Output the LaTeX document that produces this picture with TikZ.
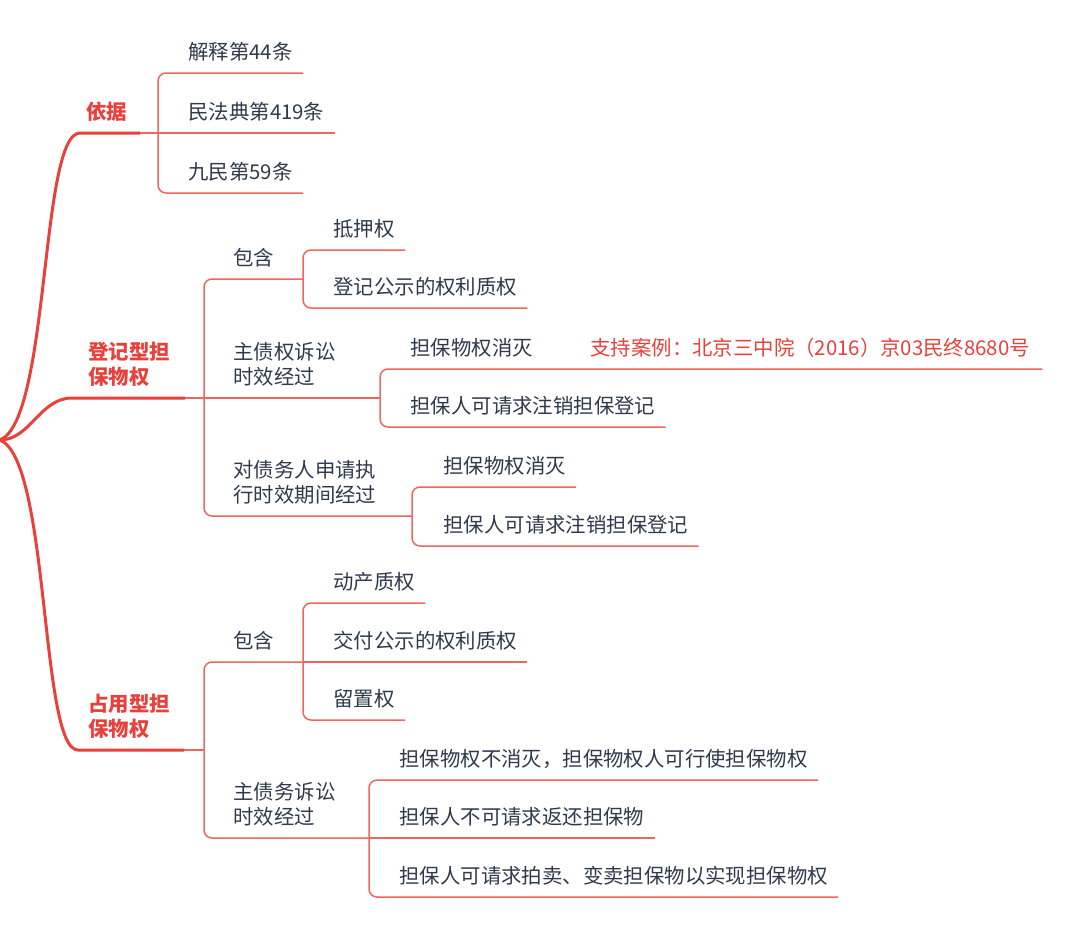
\documentclass[tikz,border=0pt]{standalone}
\usepackage{fontspec}
\setmainfont{Noto Sans CJK SC}
\usepackage{xcolor}
\usepackage{tikz}
\usetikzlibrary{calc}
\definecolor{ink}{HTML}{2E3A4B}
\definecolor{accent}{HTML}{E8413B}
\definecolor{branch}{HTML}{F0665F}
\tikzset{
  trunk/.style={draw=accent, line width=1.5pt},
  twig/.style={draw=branch, line width=0.75pt, rounded corners=4pt},
  head/.style={text=accent, font=\fontsize{10.2pt}{12.5pt}\selectfont\bfseries, anchor=base west, inner sep=0pt, align=left},
  leaf/.style={text=ink, font=\fontsize{10.2pt}{12.5pt}\selectfont, anchor=base west, inner sep=0pt},
  leaftwo/.style={leaf, align=left},
  note/.style={text=accent, font=\fontsize{10.2pt}{12.5pt}\selectfont, anchor=base west, inner sep=0pt}
}

\begin{document}
\begin{tikzpicture}[x=0.5pt,y=-0.5pt]
  \useasboundingbox (0,0) rectangle (1080,937);
  \coordinate (root) at (0,440);

  \node[head] (yiju) at (86,119) {依据};
  \coordinate (yiju-s) at (80,133);
  \coordinate (yiju-e) at (140,133);
  \coordinate (yiju-j) at (158,133);
  \draw[trunk] (root) .. controls (50,420) and (40,133) .. (yiju-s) -- (yiju-e);
  \draw[twig] (yiju-e) -- (yiju-j);

  \node[leaf] (jieshi) at (188,59) {解释第44条};
  \node[leaf] (minfa) at (188,119) {民法典第419条};
  \node[leaf] (jiumin) at (188,179) {九民第59条};
  \draw[twig] (yiju-j) |- ([xshift=5pt,yshift=-7pt]jieshi.base east);
  \draw[twig] (yiju-j) -- ([xshift=5pt,yshift=-7pt]minfa.base east);
  \draw[twig] (yiju-j) |- ([xshift=5pt,yshift=-7pt]jiumin.base east);

  \node[head] (dengji) at (88,384) {登记型担\\保物权};
  \coordinate (dengji-s) at (72,398);
  \coordinate (dengji-e) at (185,398);
  \coordinate (dengji-j) at (204,398);
  \draw[trunk] (root) .. controls (30,440) and (40,398) .. (dengji-s) -- (dengji-e);
  \draw[twig] (dengji-e) -- (dengji-j);

  \node[leaf] (baohan1) at (233,265) {包含};
  \coordinate (baohan1-j) at (303,279);
  \draw[twig] (dengji-j) |- (baohan1-j);
  \node[leaf] (diya) at (333,236) {抵押权};
  \node[leaf] (dengjiq) at (333,294) {登记公示的权利质权};
  \draw[twig] (baohan1-j) |- ([xshift=5pt,yshift=-7pt]diya.base east);
  \draw[twig] (baohan1-j) |- ([xshift=5pt,yshift=-7pt]dengjiq.base east);

  \node[leaftwo] (zhuzhai) at (233,384) {主债权诉讼\\时效经过};
  \coordinate (zhuzhai-j) at (380,398);
  \draw[twig] (dengji-j) -- (zhuzhai-j);
  \node[leaf] (xiaomie1) at (410,355) {担保物权消灭};
  \node[note] (anli) at (590,355) {支持案例：北京三中院（2016）京03民终8680号};
  \node[leaf] (zhuxiao1) at (410,413) {担保人可请求注销担保登记};
  \draw[twig] (zhuzhai-j) |- ([xshift=5pt,yshift=-7pt]xiaomie1.base east) -- ([xshift=6pt,yshift=-7pt]anli.base east);
  \draw[twig] (zhuzhai-j) |- ([xshift=5pt,yshift=-7pt]zhuxiao1.base east);

  \node[leaftwo] (duizhai) at (233,502) {对债务人申请执\\行时效期间经过};
  \coordinate (duizhai-j) at (412,516);
  \draw[twig] (dengji-j) |- (duizhai-j);
  \node[leaf] (xiaomie2) at (443,473) {担保物权消灭};
  \node[leaf] (zhuxiao2) at (443,532) {担保人可请求注销担保登记};
  \draw[twig] (duizhai-j) |- ([xshift=5pt,yshift=-7pt]xiaomie2.base east);
  \draw[twig] (duizhai-j) |- ([xshift=5pt,yshift=-7pt]zhuxiao2.base east);

  \node[head] (zhanyong) at (88,736) {占用型担\\保物权};
  \coordinate (zhanyong-s) at (78,750);
  \coordinate (zhanyong-e) at (184,750);
  \coordinate (zhanyong-j) at (204,750);
  \draw[trunk] (root) .. controls (50,460) and (40,750) .. (zhanyong-s) -- (zhanyong-e);
  \draw[twig] (zhanyong-e) -- (zhanyong-j);

  \node[leaf] (baohan2) at (233,648) {包含};
  \coordinate (baohan2-j) at (303,662);
  \draw[twig] (zhanyong-j) |- (baohan2-j);
  \node[leaf] (dongchan) at (333,589) {动产质权};
  \node[leaf] (jiaofu) at (333,648) {交付公示的权利质权};
  \node[leaf] (liuzhi) at (333,706) {留置权};
  \draw[twig] (baohan2-j) |- ([xshift=5pt,yshift=-7pt]dongchan.base east);
  \draw[twig] (baohan2-j) -- ([xshift=5pt,yshift=-7pt]jiaofu.base east);
  \draw[twig] (baohan2-j) |- ([xshift=5pt,yshift=-7pt]liuzhi.base east);

  \node[leaftwo] (zhuzhai2) at (233,824) {主债务诉讼\\时效经过};
  \coordinate (zhuzhai2-j) at (369,838);
  \draw[twig] (zhanyong-j) |- (zhuzhai2-j);
  \node[leaf] (buxiaomie) at (399,766) {担保物权不消灭，担保物权人可行使担保物权};
  \node[leaf] (bukefan) at (399,824) {担保人不可请求返还担保物};
  \node[leaf] (paimai) at (399,883) {担保人可请求拍卖、变卖担保物以实现担保物权};
  \draw[twig] (zhuzhai2-j) |- ([xshift=5pt,yshift=-7pt]buxiaomie.base east);
  \draw[twig] (zhuzhai2-j) -- ([xshift=5pt,yshift=-7pt]bukefan.base east);
  \draw[twig] (zhuzhai2-j) |- ([xshift=5pt,yshift=-7pt]paimai.base east);
\end{tikzpicture}
\end{document}
